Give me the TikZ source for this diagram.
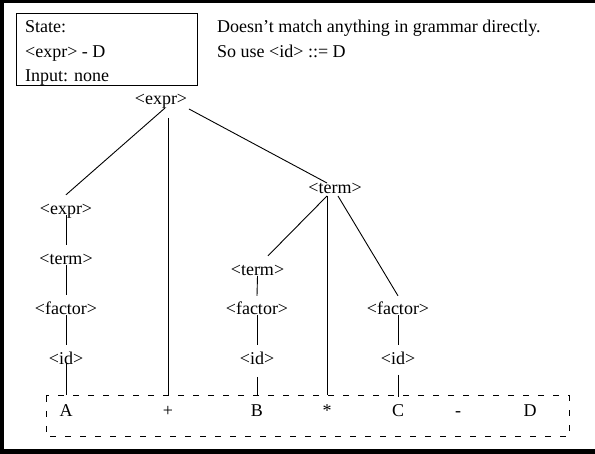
\documentclass[tikz,border=0pt]{standalone}
\usepackage{fontspec}
\setmainfont{Liberation Serif}
\usetikzlibrary{calc}
\begin{document}
\begin{tikzpicture}[x=1pt,y=-1pt,
  lbl/.style={inner sep=0pt, anchor=base, text height=20pt, text depth=0pt, font=\fontsize{18}{20}\selectfont},
  leaf/.style={lbl, text height=22pt},
  txt/.style={inner sep=0pt, anchor=base west, font=\fontsize{18}{20}\selectfont},
  edge/.style={line width=0.9pt},
  boxline/.style={line width=1pt},
  dashbox/.style={line width=1pt, dash pattern=on 6pt off 9pt}]
\useasboundingbox (0,0) rectangle (595,454);
% outer frame
\draw[line width=4pt] (2,0) -- (2,454);
\draw[line width=3pt] (0,1.5) -- (595,1.5);
\draw[line width=5pt] (0,451.5) -- (595,451.5);
% state box
\draw[boxline] (16,14) rectangle (197,86);
\node[txt] (s1) at (25,33) {State:};
\node[txt] (s2) at (25,58) {<expr> - D};
\node[txt] (s3) at (25,82) {Input: none};
% comment
\node[txt] (c1) at (217,33) {Doesn't match anything in grammar directly.};
\node[txt] (c2) at (217,58) {So use <id> ::= D};
% tree nodes
\node[lbl] (root) at (161,105) {<expr>};
\node[lbl] (lexpr) at (66,215) {<expr>};
\node[lbl] (lterm) at (66,265) {<term>};
\node[lbl] (lfactor) at (66,315) {<factor>};
\node[lbl] (lid) at (66,365) {<id>};
\node[lbl] (rterm) at (335,194) {<term>};
\node[lbl] (mterm) at (257.5,276) {<term>};
\node[lbl] (mfactor) at (257,315) {<factor>};
\node[lbl] (mid) at (257,365) {<id>};
\node[lbl] (rfactor) at (398,315) {<factor>};
\node[lbl] (rid) at (398,365) {<id>};
% leaves
\node[leaf] (A) at (66,417) {A};
\node[leaf] (plus) at (168,417) {+};
\node[leaf] (B) at (257,417) {B};
\node[leaf] (star) at (327,417) {*};
\node[leaf] (C) at (398,417) {C};
\node[leaf] (minus) at (458,417) {-};
\node[leaf] (D) at (530,417) {D};
% dashed input box
\draw[dashbox] (46,396) rectangle (569,437);
% edges
\draw[edge] ($(root.base)+(4,3)$) -- (lexpr.north);
\draw[edge] ($(root.base)+(7,13)$) -- (plus.north);
\draw[edge] ($(root.base)+(28,4)$) -- ($(rterm.base)+(-8,-11)$);
\draw[edge] (lexpr.base) -- (lterm.north);
\draw[edge] (lterm.base) -- (lfactor.north);
\draw[edge] (lfactor.base) -- (lid.north);
\draw[edge] ($(lid.base)+(0,-2)$) -- (A.north);
\draw[edge] ($(rterm.base)+(-8,2)$) -- ($(mterm.north)+(10.5,0)$);
\draw[edge] ($(rterm.base)+(-8,2)$) -- (star.north);
\draw[edge] ($(rterm.base)+(3,2)$) -- ($(rfactor.north)+(0,1)$);
\draw[edge] (mterm.base) -- ($(mfactor.north)+(0,1)$);
\draw[edge] (mfactor.base) -- (mid.north);
\draw[edge] ($(mid.base)+(0,12)$) -- (B.north);
\draw[edge] (rfactor.base) -- (rid.north);
\draw[edge] ($(rid.base)+(0,10)$) -- ($(C.north)+(0,2)$);
\end{tikzpicture}
\end{document}
